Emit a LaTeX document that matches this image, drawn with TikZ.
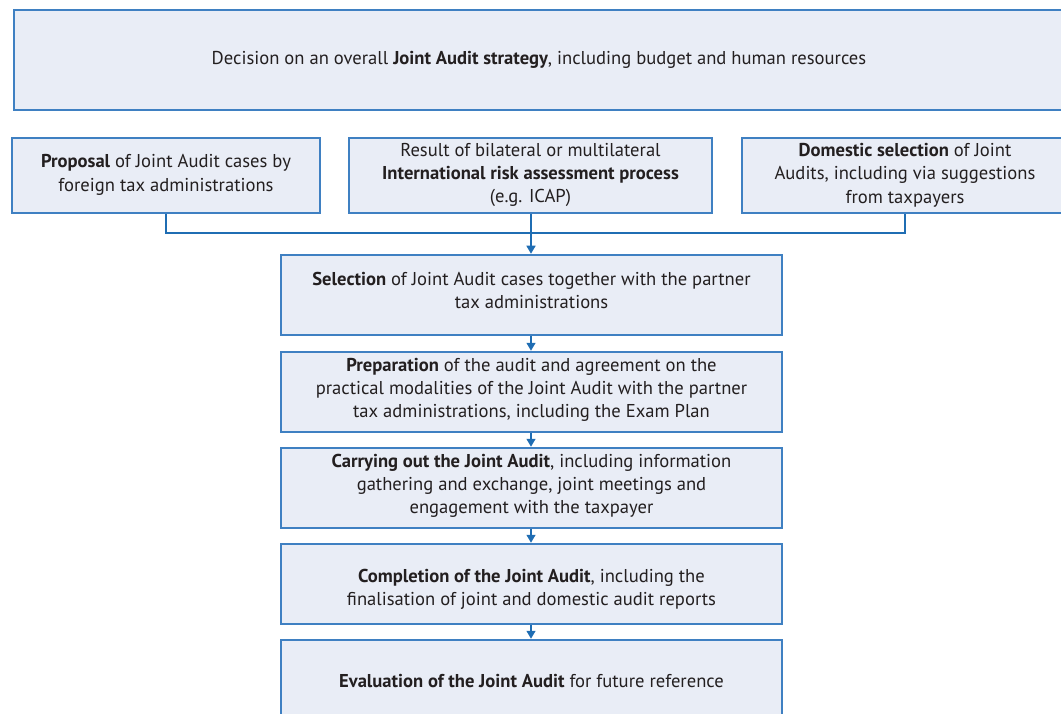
\documentclass[tikz,border=0pt]{standalone}
\usepackage{fontspec}
\setmainfont{PT Sans}
\usetikzlibrary{arrows.meta}
\definecolor{boxfill}{HTML}{E9EDF6}
\definecolor{boxline}{HTML}{3F80C2}
\definecolor{connline}{HTML}{1F6DB3}
\definecolor{txt}{HTML}{231F20}
\tikzset{
  box/.style={draw=boxline, fill=boxfill, line width=1.5pt, rectangle, inner sep=0pt},
  lbl/.style={align=center, text=txt, inner sep=0pt, font=\fontsize{18.6}{23.3}\selectfont},
  conn/.style={draw=connline, line width=1.4pt},
  arr/.style={conn, -{Triangle[width=9pt,length=8pt]}, shorten >=0.5pt},
}
\begin{document}
\begin{tikzpicture}[x=1pt,y=-1pt]
\useasboundingbox (0,0) rectangle (1061,714);
\clip (0,0) rectangle (1061,714);
% boxes
\node[box, minimum width=1050pt, minimum height=100pt] (top) at (539,60) {};
\node[box, minimum width=308pt, minimum height=75pt] (prop) at (166,175.5) {};
\node[box, minimum width=363pt, minimum height=75pt] (risk) at (530.5,175.5) {};
\node[box, minimum width=326pt, minimum height=75pt] (dom) at (905,175.5) {};
\node[box, minimum width=501pt, minimum height=80pt] (sel) at (531.5,295) {};
\node[box, minimum width=501pt, minimum height=80pt] (prep) at (531.5,392) {};
\node[box, minimum width=501pt, minimum height=80pt] (carry) at (531.5,488) {};
\node[box, minimum width=501pt, minimum height=80pt] (comp) at (531.5,584) {};
\node[box, minimum width=501pt, minimum height=80pt] (eval) at (531.5,680) {};
% texts
\node[lbl] (ttop) at (539,60) {Decision on an overall \textbf{Joint Audit strategy}, including budget and human resources};
\node[lbl] (tprop) at (166,175) {\textbf{Proposal} of Joint Audit cases by\\foreign tax administrations};
\node[lbl] (trisk) at (530.5,175) {Result of bilateral or multilateral\\\textbf{International risk assessment process}\\(e.g. ICAP)};
\node[lbl] (tdom) at (905,175) {\textbf{Domestic selection} of Joint\\Audits, including via suggestions\\from taxpayers};
\node[lbl] (tsel) at (531.5,290.5) {\textbf{Selection} of Joint Audit cases together with the partner\\tax administrations};
\node[lbl] (tprep) at (531.5,390) {\textbf{Preparation} of the audit and agreement on the\\practical modalities of the Joint Audit with the partner\\tax administrations, including the Exam Plan};
\node[lbl] (tcarry) at (531.5,486) {\textbf{Carrying out the Joint Audit}, including information\\gathering and exchange, joint meetings and\\engagement with the taxpayer};
\node[lbl] (tcomp) at (531.5,589.5) {\textbf{Completion of the Joint Audit}, including the\\finalisation of joint and domestic audit reports};
\node[lbl] (teval) at (531.5,681) {\textbf{Evaluation of the Joint Audit} for future reference};
% connectors
\coordinate (j) at (531,233);
\draw[conn] (prop.south) |- (j) -| (dom.south);
\draw[arr] (risk.south -| j) -- (sel.north -| j);
\draw[arr] (sel.south -| j) -- (prep.north -| j);
\draw[arr] (prep.south -| j) -- (carry.north -| j);
\draw[arr] (carry.south -| j) -- (comp.north -| j);
\draw[arr] (comp.south -| j) -- (eval.north -| j);
\end{tikzpicture}
\end{document}
